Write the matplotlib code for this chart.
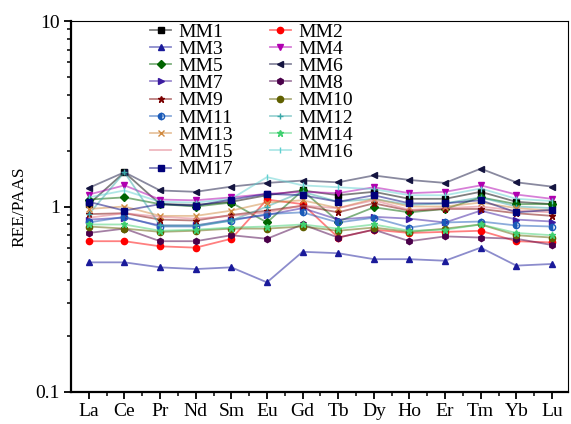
import numpy as np
import matplotlib
matplotlib.use("Agg")
import matplotlib.pyplot as plt
from matplotlib.ticker import LogLocator, NullFormatter, FixedLocator
from matplotlib.colors import to_rgba

plt.rcParams['font.family'] = ['Liberation Serif', 'DejaVu Serif']

# elementos
ree = ['La', 'Ce', 'Pr', 'Nd', 'Sm', 'Eu', 'Gd', 'Tb', 'Dy', 'Ho', 'Er', 'Tm', 'Yb', 'Lu']

# valores normalizados a PAAS
MM1 = [1.03, 1.53, 1.03, 1.02, 1.06, 1.15, 1.22, 1.15, 1.20, 1.10, 1.10, 1.20, 1.06, 1.03]
MM2 = [0.65, 0.65, 0.61, 0.60, 0.67, 1.09, 1.03, 0.68, 0.75, 0.72, 0.73, 0.74, 0.65, 0.64]
MM3 = [0.50, 0.50, 0.47, 0.46, 0.47, 0.39, 0.57, 0.56, 0.52, 0.52, 0.51, 0.60, 0.48, 0.49]
MM4 = [1.16, 1.30, 1.09, 1.08, 1.12, 1.17, 1.20, 1.18, 1.27, 1.18, 1.20, 1.30, 1.16, 1.10]
MM5 = [1.09, 1.12, 1.03, 1.00, 1.05, 0.82, 1.22, 0.83, 0.99, 0.93, 0.97, 1.12, 1.03, 1.03]
MM6 = [1.26, 1.53, 1.22, 1.20, 1.28, 1.34, 1.38, 1.35, 1.47, 1.39, 1.34, 1.60, 1.35, 1.28]
MM7 = [0.85, 0.87, 0.79, 0.79, 0.85, 0.90, 0.98, 0.85, 0.88, 0.86, 0.82, 0.95, 0.85, 0.83]
MM8 = [0.72, 0.76, 0.65, 0.65, 0.70, 0.67, 0.80, 0.68, 0.75, 0.65, 0.69, 0.68, 0.67, 0.62]
MM9 = [0.91, 0.92, 0.85, 0.84, 0.90, 0.95, 1.01, 0.93, 1.04, 0.95, 0.97, 0.97, 0.92, 0.89]
MM10 = [0.78, 0.76, 0.73, 0.74, 0.76, 0.76, 0.78, 0.74, 0.77, 0.73, 0.76, 0.80, 0.70, 0.68]
MM11 = [0.82, 0.88, 0.78, 0.78, 0.84, 0.91, 0.93, 0.82, 0.87, 0.77, 0.82, 0.83, 0.79, 0.78]
MM12 = [0.91, 1.53, 0.79, 0.79, 0.84, 1.00, 1.20, 1.06, 1.10, 1.02, 1.04, 1.12, 1.00, 0.98]
MM13 = [0.97, 1.00, 0.89, 0.89, 0.95, 1.05, 1.08, 0.98, 1.10, 1.00, 1.00, 1.05, 0.98, 0.95]
MM14 = [0.80, 0.80, 0.74, 0.75, 0.77, 0.78, 0.80, 0.76, 0.80, 0.74, 0.75, 0.80, 0.72, 0.70]
MM15 = [0.87, 0.92, 0.88, 0.86, 0.89, 0.93, 1.01, 0.98, 1.08, 0.96, 0.98, 1.00, 0.95, 0.93]
MM16 = [1.12, 1.22, 1.06, 1.05, 1.10, 1.44, 1.30, 1.27, 1.24, 1.15, 1.15, 1.25, 1.10, 1.07]
MM17 = [1.06, 0.95, 1.03, 1.01, 1.09, 1.17, 1.15, 1.06, 1.15, 1.04, 1.04, 1.08, 0.93, 0.96]

nombres = ['MM%d' % i for i in range(1, 18)]
datos = [MM1, MM2, MM3, MM4, MM5, MM6, MM7, MM8, MM9, MM10, MM11, MM12, MM13, MM14, MM15, MM16, MM17]
colores = ['#000000', '#ff0000', '#1a1a9a', '#b000b0', '#006400', '#141440', '#3a1aa0', '#4a004a',
           '#7a0000', '#606000', '#1a5ab8', '#3aa8a8', '#d08a40', '#40d070', '#e07080', '#60d0d0', '#00007a']
marcas = ['s', 'o', '^', 'v', 'D', '<', '>', 'h', '*', 'o', 'o', '+', 'x', '*', 'None', '|', 's']

fig = plt.figure(figsize=(5.71, 4.24), dpi=100)
ax = fig.add_axes([71/571, 1-392/424, 497/571, 371/424])

x = np.arange(len(ree))
lineas = []
for nom, y, c, m in zip(nombres, datos, colores, marcas):
    fill = 'left' if nom == 'MM11' else 'full'
    l, = ax.plot(x, y, color=to_rgba(c, 0.5), lw=1.3, marker=m, ms=4.5,
                 mfc=c, mec=c, fillstyle=fill, label=nom)
    lineas.append(l)

ax.set_yscale('log')
ax.set_ylim(0.1, 10)
ax.set_xlim(-0.5, 13.45)
ax.set_xticks(x)
ax.set_xticklabels(ree)
ax.xaxis.set_minor_locator(FixedLocator(x[:-1] + 0.5))
ax.yaxis.set_minor_locator(LogLocator(base=10, subs=np.arange(2, 10)))
ax.yaxis.set_minor_formatter(NullFormatter())
ax.set_yticks([0.1, 1, 10])
ax.set_yticklabels(['0.1', '1', '10'])
ax.tick_params(which='major', direction='out', length=5, width=1.3, labelsize=14, pad=3)
ax.tick_params(which='minor', direction='out', length=3, width=1.1)
for s in ['left', 'bottom']:
    ax.spines[s].set_linewidth(1.6)
for s in ['top', 'right']:
    ax.spines[s].set_linewidth(0.8)
ax.set_ylabel('REE/PAAS', fontsize=12.5, labelpad=6)

# orden por filas: impares en la primera columna, pares en la segunda
orden = list(range(0, 17, 2)) + list(range(1, 17, 2))
ax.legend([lineas[i] for i in orden], [nombres[i] for i in orden],
          ncol=2, loc='upper left', bbox_to_anchor=(150/571, 1-23/424),
          bbox_transform=fig.transFigure, frameon=False, fontsize=14,
          labelspacing=-0.02, handlelength=1.1, handletextpad=0.35,
          columnspacing=1.9, borderpad=0, borderaxespad=0)

plt.savefig('out.png', dpi=100)
